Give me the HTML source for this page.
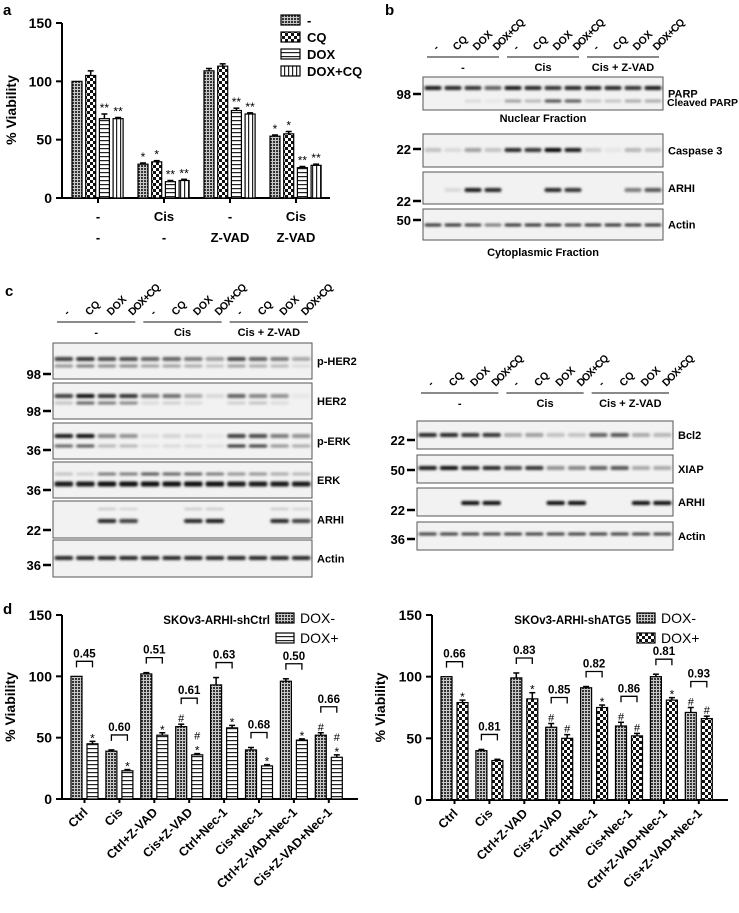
<!DOCTYPE html>
<html><head><meta charset="utf-8"><style>
body{margin:0;background:#fff}
svg{display:block;font-family:"Liberation Sans",Arial,sans-serif;font-weight:bold}
</style></head><body>
<svg id="s" width="739" height="913" viewBox="0 0 739 913" xmlns="http://www.w3.org/2000/svg">
<defs>
<pattern id="pDots" width="3" height="3" patternUnits="userSpaceOnUse"><rect width="3" height="3" fill="#c8c8c8"/><rect width="2" height="2" fill="#333"/></pattern>
<pattern id="pCheck" width="6" height="6" patternUnits="userSpaceOnUse"><rect width="6" height="6" fill="#fff"/><rect width="3" height="3" fill="#111"/><rect x="3" y="3" width="3" height="3" fill="#111"/></pattern>
<pattern id="pH" width="4" height="4" patternUnits="userSpaceOnUse"><rect width="4" height="4" fill="#fff"/><rect y="0" width="4" height="1.2" fill="#222"/></pattern>
<pattern id="pV" width="4" height="4" patternUnits="userSpaceOnUse"><rect width="4" height="4" fill="#fff"/><rect x="0" width="1.2" height="4" fill="#222"/></pattern>
<filter id="blur" x="-20%" y="-200%" width="140%" height="500%"><feGaussianBlur stdDeviation="1.2"/></filter>
</defs>
<g id="root"></g>
</svg>
<script>
// ---------- Panel a data ----------
const aGroups1 = ["-", "Cis", "-", "Cis"];
const aGroups2 = ["-", "-", "Z-VAD", "Z-VAD"];
const aSeriesNames = ["-", "CQ", "DOX", "DOX+CQ"];
const aValues = [[100,105,68,68],[29,31,14,15],[109,113,75,72],[53,55,26,28]];
const aErrors = [[0,4,4,1],[1,1,1,1],[2,2,2,1],[1,2,1,1]];
const aStars = [["","","**","**"],["*","*","**","**"],["","","**","**"],["*","*","**","**"]];
const yTicks = [0,50,100,150];
// ---------- Panel d data ----------
const dCats = ["Ctrl","Cis","Ctrl+Z-VAD","Cis+Z-VAD","Ctrl+Nec-1","Cis+Nec-1","Ctrl+Z-VAD+Nec-1","Cis+Z-VAD+Nec-1"];
const dLeftMinus = [100,39,102,59,93,40,96,52];
const dLeftPlus = [45,23,52,36,58,27,48,34];
const dLeftErrM = [0,1,1,2,6,2,2,2];
const dLeftErrP = [2,1,2,1,2,1,1,2];
const dLeftP = ["0.45","0.60","0.51","0.61","0.63","0.68","0.50","0.66"];
const dLeftMarkM = ["","","","#","","","","#"];
const dLeftMarkP = ["*","*","*","#*","*","*","*","#*"];
const dRightMinus = [100,40,99,59,91,60,100,71];
const dRightPlus = [79,32,82,50,75,52,81,66];
const dRightErrM = [0,1,4,3,1,3,2,4];
const dRightErrP = [2,1,5,3,2,2,2,2];
const dRightP = ["0.66","0.81","0.83","0.85","0.82","0.86","0.81","0.93"];
const dRightMarkM = ["","","","#","","#","","#"];
const dRightMarkP = ["*","","*","#","*","#","*","#"];

const NS="http://www.w3.org/2000/svg";
const root=document.getElementById('root');
function el(tag,attrs,parent,text){const e=document.createElementNS(NS,tag);for(const k in attrs)e.setAttribute(k,attrs[k]);if(text!==undefined)e.textContent=text;(parent||root).appendChild(e);return e;}

// ===== Panel a =====
const ga=el('g',{});


const aLbl=el('text',{x:3,y:15,'font-size':15},ga,'a');

function yA(v){return 198 - v*175/150;}
const aPat=["url(#pDots)","url(#pCheck)","url(#pH)","url(#pV)"];
el('line',{x1:62,y1:23,x2:62,y2:198,stroke:'#000','stroke-width':2},ga);
el('line',{x1:61,y1:198,x2:330,y2:198,stroke:'#000','stroke-width':2},ga);
yTicks.forEach(t=>{
  el('line',{x1:56,y1:yA(t),x2:62,y2:yA(t),stroke:'#000','stroke-width':2},ga);
  const tx=el('text',{x:52,y:yA(t)+5,'font-size':14,'text-anchor':'end'},ga,t);
  
});
const aYT=el('text',{transform:'translate(16,110) rotate(-90)','font-size':14,'text-anchor':'middle'},ga,'% Viability');

aValues.forEach((grp,g)=>{
  const gx=72+g*66;
  const cx=gx+26;
  el('line',{x1:cx,y1:198,x2:cx,y2:203,stroke:'#000','stroke-width':2},ga);
  const t1=el('text',{x:cx,y:221,'font-size':13,'text-anchor':'middle'},ga,aGroups1[g]);
  
  const t2=el('text',{x:cx,y:242,'font-size':13,'text-anchor':'middle'},ga,aGroups2[g]);
  
  grp.forEach((v,i)=>{
    const x=gx+i*13.7;
    const r=el('rect',{x:x,y:yA(v),width:10,height:198-yA(v),fill:aPat[i],stroke:'#000','stroke-width':1.2},ga);
    
    const e=aErrors[g][i];
    if(e>0){el('line',{x1:x+5,y1:yA(v),x2:x+5,y2:yA(v+e),stroke:'#000','stroke-width':1.5},ga);
      el('line',{x1:x+2,y1:yA(v+e),x2:x+8,y2:yA(v+e),stroke:'#000','stroke-width':1.5},ga);}
    if(aStars[g][i]){const s=el('text',{x:x+5,y:yA(v+e)-2,'font-size':12,'text-anchor':'middle','font-weight':'normal'},ga,aStars[g][i]);
      }
  });
});
aSeriesNames.forEach((n,i)=>{
  const y=15+i*17;
  const r=el('rect',{x:281,y:y,width:19,height:10,fill:aPat[i],stroke:'#000','stroke-width':1.2},ga);
  
  const t=el('text',{x:307,y:y+10,'font-size':13},ga,n);
  
});

// ===== Panel d charts =====
function dChart(opts){
  const g=el('g',{});
  
  
  const y=v=>opts.y0 - v*opts.h/150;
  el('line',{x1:opts.ax,y1:y(150),x2:opts.ax,y2:opts.y0,stroke:'#000','stroke-width':2},g);
  el('line',{x1:opts.ax-1,y1:opts.y0,x2:opts.axEnd,y2:opts.y0,stroke:'#000','stroke-width':2},g);
  yTicks.forEach(t=>{
    el('line',{x1:opts.ax-6,y1:y(t),x2:opts.ax,y2:y(t),stroke:'#000','stroke-width':2},g);
    const tx=el('text',{x:opts.ax-10,y:y(t)+5,'font-size':14,'text-anchor':'end'},g,t);
    
  });
  const yt=el('text',{transform:'translate('+(opts.ax-47)+','+(y(75))+') rotate(-90)','font-size':14,'text-anchor':'middle'},g,'% Viability');
  
  dCats.forEach((c,i)=>{
    const x0=opts.bx+i*34.9;
    const cx=x0+13.5;
    el('line',{x1:cx,y1:opts.y0,x2:cx,y2:opts.y0+4,stroke:'#000','stroke-width':2},g);
    const lt=el('text',{transform:'translate('+(cx+4)+','+(opts.y0+14)+') rotate(-45)','font-size':12.5,'text-anchor':'end'},g,c);
    
    const vm=opts.m[i],vp=opts.p[i],em=opts.em[i],ep=opts.ep[i];
    [[vm,em,0,'url(#pDots)',opts.mm[i],'dox-minus'],[vp,ep,16,opts.pPat,opts.mp[i],'dox-plus']].forEach(b=>{
      const x=x0+b[2];
      const r=el('rect',{x:x,y:y(b[0]),width:11,height:opts.y0-y(b[0]),fill:b[3],stroke:'#000','stroke-width':1.2},g);
      
      if(b[1]>0){el('line',{x1:x+5.5,y1:y(b[0]),x2:x+5.5,y2:y(b[0]+b[1]),stroke:'#000','stroke-width':1.5},g);
        el('line',{x1:x+2.5,y1:y(b[0]+b[1]),x2:x+8.5,y2:y(b[0]+b[1]),stroke:'#000','stroke-width':1.5},g);}
      const marks=b[4].split('');
      let yy=y(b[0]+b[1])-2;
      for(let k=marks.length-1;k>=0;k--){
        const s=el('text',{x:x+5.5,y:yy+(marks[k]==='*'?3:0),'font-size':marks[k]==='*'?12:11,'text-anchor':'middle','font-weight':'normal'},g,marks[k]);
        
        yy-=12;
      }
    });
    const top=y(Math.max(vm+em,vp+ep))-(opts.mp[i].length>1||opts.mm[i]?26:15);
    el('path',{d:'M'+(x0+5.5)+','+(top+6)+' V'+top+' H'+(x0+21.5)+' V'+(top+6),fill:'none',stroke:'#000','stroke-width':1.3},g);
    const pt=el('text',{x:x0+13.5,y:top-4,'font-size':11.5,'text-anchor':'middle'},g,opts.pv[i]);
    
  });
  const lt=el('text',{x:opts.legX-6,y:opts.y0-opts.h+9,'font-size':11.5,'text-anchor':'end'},g,opts.title);
  
  [['url(#pDots)','DOX-'],[opts.pPat,'DOX+']].forEach((l,k)=>{
    const yy=opts.y0-opts.h-2+k*20;
    const r=el('rect',{x:opts.legX,y:yy,width:18,height:10,fill:l[0],stroke:'#000','stroke-width':1.2},g);
    
    const t=el('text',{x:opts.legX+24,y:yy+10,'font-size':14,'font-weight':'normal'},g,l[1]);
    
  });
}
const dl=el('text',{x:3,y:614,'font-size':15},root,'d');

dChart({name:'panel-d-left-chart',ax:62,axEnd:358,y0:799,h:184,bx:71,m:dLeftMinus,p:dLeftPlus,em:dLeftErrM,ep:dLeftErrP,mm:dLeftMarkM,mp:dLeftMarkP,pv:dLeftP,pPat:'url(#pH)',title:'SKOv3-ARHI-shCtrl',legX:276});
dChart({name:'panel-d-right-chart',ax:432,axEnd:728,y0:800,h:185,bx:441,m:dRightMinus,p:dRightPlus,em:dRightErrM,ep:dRightErrP,mm:dRightMarkM,mp:dRightMarkP,pv:dRightP,pPat:'url(#pCheck)',title:'SKOv3-ARHI-shATG5',legX:637});

// ===== Western blots =====
const laneLabels=["-","CQ","DOX","DOX+CQ"];
const groupLabels=["-","Cis","Cis + Z-VAD"];
function blotHeader(g,x0,x1,lineY){
  const lw=(x1-x0)/12;
  for(let i=0;i<12;i++){
    const cx=x0+lw*(i+0.5);
    const t=el('text',{transform:'translate('+(cx+4)+','+(lineY-6)+') rotate(-45)','font-size':10.5,textLength:laneLabels[i%4].length>3?40:undefined},g,laneLabels[i%4]);
    if(laneLabels[i%4].length<=3)t.removeAttribute('textLength');
    
  }
  for(let k=0;k<3;k++){
    const a=x0+lw*4*k+4,b=x0+lw*4*(k+1)-4;
    el('line',{x1:a,y1:lineY,x2:b,y2:lineY,stroke:'#444','stroke-width':1.2},g);
    const t=el('text',{x:(a+b)/2,y:lineY+14,'font-size':11,'text-anchor':'middle'},g,groupLabels[k]);
    
  }
}
function blot(g,x0,x1,y0,y1,label,bands,mw){
  const b=el('g',{},g);
  
  
  el('rect',{x:x0,y:y0,width:x1-x0,height:y1-y0,fill:'#f2f2f2',stroke:'#555','stroke-width':1},b);
  const lw=(x1-x0)/12;
  const bg=el('g',{filter:'url(#blur)'},b);
  bands.forEach(bd=>{
    bd.v.forEach((v,i)=>{
      if(v<=0)return;
      el('rect',{x:x0+lw*i+1.5,y:bd.y-bd.h/2,width:lw-3,height:bd.h,rx:2,fill:'#000','fill-opacity':v},bg);
    });
  });
  const lbl=el('text',{x:x1+5,y:(y0+y1)/2+4,'font-size':11},b,label);
  
  mw.forEach(m=>{
    el('line',{x1:x0-10,y1:m[1],x2:x0-2,y2:m[1],stroke:'#000','stroke-width':2.5},b);
    const t=el('text',{x:x0-12,y:m[1]+5,'font-size':13,'text-anchor':'end'},b,m[0]);
    
  });
}
// panel b
const gb=el('g',{});
const bl=el('text',{x:385,y:15,'font-size':15},gb,'b');
blotHeader(gb,423,663,57);
blot(gb,423,663,77,110,'PARP',[{y:88,h:4,v:[.9,.85,.8,.6,.9,.85,.8,.85,.85,.85,.8,.9]},{y:101,h:3,v:[0,0,.1,.05,.35,.25,.7,.65,.2,.2,.3,.3]}],[['98',94]]);
const cp=el('text',{x:667,y:106,'font-size':10.5,textLength:71},gb,'Cleaved PARP');
const nf=el('text',{x:543,y:122,'font-size':11,'text-anchor':'middle'},gb,'Nuclear Fraction');
blot(gb,423,663,134,167,'Caspase 3',[{y:150,h:4,v:[.2,.1,.35,.2,.85,.8,1,.9,.15,.05,.25,.2]}],[['22',149]]);
blot(gb,423,663,172,204,'ARHI',[{y:190,h:4,v:[0,.1,.9,.85,0,0,.85,.8,0,0,.5,.65]}],[['22',201]]);
blot(gb,423,663,209,240,'Actin',[{y:225,h:3,v:[.8,.8,.75,.5,.8,.8,.8,.75,.8,.8,.8,.8]}],[['50',220]]);
const cf=el('text',{x:543,y:256,'font-size':11,'text-anchor':'middle'},gb,'Cytoplasmic Fraction');
// panel c left
const gc=el('g',{});
const cl=el('text',{x:5,y:296,'font-size':15},gc,'c');
blotHeader(gc,53,312,322);
blot(gc,53,312,343,379,'p-HER2',[{y:359,h:4,v:[.75,.8,.7,.7,.6,.6,.5,.35,.7,.6,.5,.3]},{y:366,h:3,v:[.4,.5,.45,.45,.35,.35,.3,.2,.35,.3,.25,.1]}],[['98',374]]);
blot(gc,53,312,383,419,'HER2',[{y:396,h:4,v:[.75,.95,.8,.8,.5,.55,.3,.1,.6,.45,.4,.05]},{y:403,h:3,v:[.2,.6,.5,.45,.1,.15,.1,0,.15,.2,.1,0]}],[['98',411]]);
blot(gc,53,312,423,459,'p-ERK',[{y:436,h:4,v:[.9,.95,.45,.4,.08,.12,.1,.05,.75,.7,.5,.4]},{y:446,h:3,v:[.6,.65,.25,.25,.08,.1,.1,.08,.8,.75,.4,.3]}],[['36',450]]);
blot(gc,53,312,462,498,'ERK',[{y:474,h:3,v:[.2,.15,.5,.5,.65,.6,.6,.5,.4,.4,.3,.25]},{y:484,h:5,v:[.9,.9,.95,.95,.95,.95,.95,.95,.9,.9,.9,.9]}],[['36',490]]);
blot(gc,53,312,501,538,'ARHI',[{y:509,h:2,v:[0,0,.2,.15,0,0,.2,.2,0,0,.2,.15]},{y:521,h:4,v:[0,0,.85,.75,0,0,.85,.9,0,0,.85,.75]}],[['22',530]]);
blot(gc,53,312,540,577,'Actin',[{y:558,h:4,v:[.85,.85,.85,.85,.85,.85,.85,.85,.85,.85,.85,.85]}],[['36',565]]);
// panel c right
blotHeader(gc,417,673,393);
blot(gc,417,673,421,449,'Bcl2',[{y:435,h:4,v:[.85,.85,.8,.8,.3,.35,.2,.2,.6,.65,.3,.25]}],[['22',440]]);
blot(gc,417,673,455,483,'XIAP',[{y:468,h:4,v:[.9,.95,.85,.85,.7,.8,.4,.45,.6,.65,.3,.3]}],[['50',470]]);
blot(gc,417,673,488,516,'ARHI',[{y:503,h:4,v:[0,0,.95,.95,0,0,.95,.95,0,0,.95,.95]}],[['22',510]]);
blot(gc,417,673,522,550,'Actin',[{y:534,h:3,v:[.75,.75,.75,.75,.75,.75,.75,.75,.75,.75,.75,.75]}],[['36',539]]);
</script>
</body></html>
